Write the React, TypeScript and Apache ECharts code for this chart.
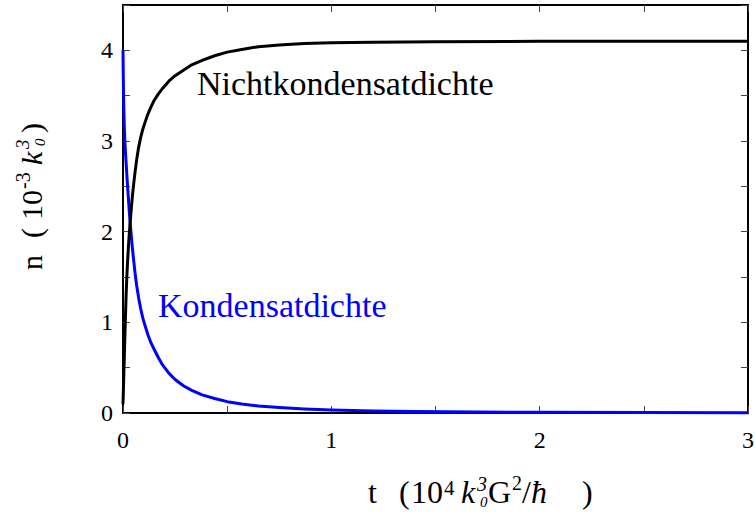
import React, { useEffect, useRef } from "react";
import * as echarts from "echarts";

// time axis (units of 10^4 k0^3 G^2 / hbar) and densities (units of 10^-3 k0^3)
const tCondensate = [0, 0.002, 0.004, 0.006, 0.008, 0.01, 0.013, 0.016, 0.02, 0.025, 0.03, 0.035, 0.04, 0.045, 0.05, 0.058, 0.066, 0.075, 0.085, 0.095, 0.105, 0.12, 0.135, 0.15, 0.17, 0.19, 0.22, 0.25, 0.29, 0.33, 0.38, 0.44, 0.5, 0.57, 0.65, 0.75, 0.87, 1.0, 1.2, 1.4, 1.7, 2.0, 2.5, 3.0];
const nCondensate = [4.0, 3.6, 3.35, 3.18, 3.05, 2.95, 2.83, 2.72, 2.57, 2.4, 2.23, 2.08, 1.95, 1.82, 1.71, 1.54, 1.4, 1.27, 1.15, 1.05, 0.97, 0.86, 0.77, 0.7, 0.61, 0.53, 0.44, 0.37, 0.3, 0.25, 0.2, 0.16, 0.125, 0.1, 0.078, 0.06, 0.044, 0.032, 0.022, 0.016, 0.011, 0.008, 0.005, 0.004];

const tNonCondensate = [0, 0.003, 0.006, 0.009, 0.012, 0.015, 0.018, 0.022, 0.026, 0.03, 0.035, 0.04, 0.045, 0.05, 0.058, 0.066, 0.075, 0.085, 0.095, 0.105, 0.12, 0.135, 0.15, 0.17, 0.19, 0.22, 0.25, 0.29, 0.33, 0.38, 0.44, 0.5, 0.57, 0.65, 0.75, 0.87, 1.0, 1.2, 1.5, 2.0, 3.0];
const nNonCondensate = [0.1, 0.35, 0.6, 0.85, 1.08, 1.3, 1.48, 1.67, 1.83, 1.97, 2.12, 2.26, 2.39, 2.5, 2.66, 2.8, 2.93, 3.04, 3.13, 3.2, 3.3, 3.38, 3.45, 3.52, 3.58, 3.66, 3.72, 3.78, 3.84, 3.89, 3.94, 3.98, 4.01, 4.04, 4.06, 4.075, 4.085, 4.09, 4.095, 4.1, 4.1];

const xTickLabels = ["0", "1", "2", "3"];
const yTickLabels = ["0", "1", "2", "3", "4"];

const SERIF = "Liberation Serif, Times New Roman, serif";
const font = (size: number, italic = false) => `${italic ? "italic " : ""}${size}px ${SERIF}`;

// text piece placed by its left edge and alphabetic baseline
function piece(text: string, x: number, baseline: number, size: number, italic = false, color = "#000") {
  return {
    type: "text",
    x,
    y: baseline - 0.3375 * size,
    silent: true,
    style: {
      text,
      font: font(size, italic),
      fill: color,
      textAlign: "left",
      textVerticalAlign: "middle",
      verticalAlign: "middle",
    },
  };
}

const zip = (xs: number[], ys: number[]) => xs.map((x, i) => [x, ys[i]]);

const intLabel = (list: string[]) => (v: number) => {
  const s = String(v);
  return list.includes(s) ? s : "";
};

export default function App() {
  const ref = useRef<HTMLDivElement>(null);

  useEffect(() => {
    if (!ref.current) return;
    const chart = echarts.init(ref.current, null, { renderer: "svg" });

    const frameLine = { show: true, onZero: false, lineStyle: { color: "#000", width: 2 } };
    const ticks = { show: true, inside: true, length: 7, lineStyle: { color: "#444", width: 1 } };

    const xBase = { type: "value", min: 0, max: 3, interval: 0.5, axisLine: frameLine, axisTick: ticks, splitLine: { show: false } };
    const yBase = { type: "value", min: 0, max: 4.5, interval: 0.5, axisLine: frameLine, axisTick: ticks, splitLine: { show: false } };

    chart.setOption({
      animation: false,
      backgroundColor: "#fff",
      grid: { left: 123, right: 7, top: 5, bottom: 99, containLabel: false, outerBoundsMode: "none" },
      xAxis: [
        {
          ...xBase,
          position: "bottom",
          axisLabel: {
            formatter: intLabel(xTickLabels),
            fontFamily: SERIF,
            fontSize: 24,
            color: "#000",
            margin: 15,
            showMinLabel: true,
            showMaxLabel: true,
          },
        },
        { ...xBase, position: "top", axisLabel: { show: false } },
      ],
      yAxis: [
        {
          ...yBase,
          position: "left",
          axisLabel: {
            formatter: intLabel(yTickLabels),
            fontFamily: SERIF,
            fontSize: 24,
            color: "#000",
            margin: 10,
            showMinLabel: true,
          },
        },
        { ...yBase, position: "right", axisLabel: { show: false } },
      ],
      series: [
        {
          name: "Kondensatdichte",
          type: "line",
          data: zip(tCondensate, nCondensate),
          showSymbol: false,
          clip: false,
          lineStyle: { color: "#0000ff", width: 3, join: "round" },
          z: 3,
        },
        {
          name: "Nichtkondensatdichte",
          type: "line",
          data: zip(tNonCondensate, nNonCondensate),
          showSymbol: false,
          clip: false,
          lineStyle: { color: "#000", width: 3, join: "round" },
          z: 4,
        },
      ],
      graphic: [
        piece("Nichtkondensatdichte", 197, 95, 34),
        piece("Kondensatdichte", 158, 317, 34, false, "#0000ff"),
        // x axis title: t (10^4 k0^3 G^2/ħ)
        {
          type: "group",
          children: [
            piece("t", 368, 503, 32),
            piece("(", 399, 503, 32),
            piece("10", 411, 503, 32),
            piece("4", 444, 495, 21),
            piece("k", 461, 503, 32, true),
            piece("3", 477, 491, 20, true),
            piece("0", 480, 507, 15, true),
            piece("G", 488, 503, 32),
            piece("2", 512, 490, 20),
            piece("/", 522, 503, 32),
            piece("ħ", 531, 503, 32, true),
            piece(")", 582, 503, 32),
          ],
        },
        // y axis title: n (10^-3 k0^3), rotated
        {
          type: "group",
          x: 42,
          y: 270,
          rotation: Math.PI / 2,
          children: [
            piece("n", 0, 0, 30),
            piece("(", 32, 0, 30),
            piece("10", 50, 0, 30),
            piece("-3", 81, -12, 20),
            piece("k", 105, 0, 30, true),
            piece("3", 121, -13, 19, true),
            piece("0", 124, 3, 15, true),
            piece(")", 137, 0, 30),
          ],
        },
      ],
    });

    return () => chart.dispose();
  }, []);

  return (
    <div
      ref={ref}
      style={{ position: "fixed", left: 0, top: 0, width: 755, height: 512, background: "#fff" }}
    />
  );
}
